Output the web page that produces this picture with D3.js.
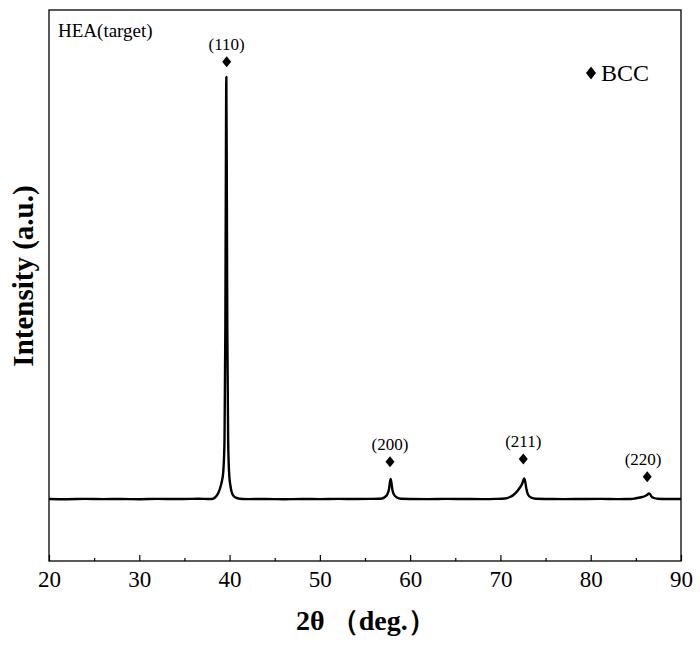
<!DOCTYPE html>
<html>
<head>
<meta charset="utf-8">
<script src="https://cdn.jsdelivr.net/npm/d3@7"></script>
<style>
  body { margin: 0; background: #fff; }
  svg { display: block; }
  text { font-family: "Liberation Serif", "Times New Roman", serif; }
</style>
</head>
<body>
<svg id="chart" width="700" height="646"></svg>
<script>
// XRD pattern (2θ in deg, intensity in a.u.)
const twoTheta = [
  20, 22, 24, 26, 28, 30, 32, 34, 35.5, 36.5, 37.3, 37.8,
  38.05, 38.39, 38.75, 38.99, 39.13, 39.30, 39.44, 39.53, 39.58, 39.64,
  39.70, 39.75, 39.84, 39.97, 40.10, 40.23, 40.49, 40.79, 41.49,
  42, 44, 46, 48, 50, 52, 54, 55.5, 56.5,
  56.88, 57.21, 57.49, 57.66, 57.77, 57.84, 57.93, 58.04, 58.21, 58.54, 58.98,
  60, 62, 64, 66, 68, 69.5,
  70.50, 71.06, 71.50, 71.83, 72.16, 72.39, 72.55, 72.64, 72.75, 72.88, 73.05, 73.38, 73.94,
  75, 77, 79, 81, 83, 84.5,
  84.90, 85.45, 85.90, 86.23, 86.45, 86.56, 86.73, 87.00, 87.45,
  88.5, 90
];
const intensity = [
  620, 618, 621, 619, 620, 618, 621, 620, 621, 622, 621, 620,
  620, 635, 680, 740, 790, 890, 1210, 2310, 3610, 4840,
  3610, 2310, 1210, 850, 750, 690, 645, 630, 620,
  619, 620, 618, 620, 619, 621, 620, 621, 622,
  625, 640, 670, 720, 790, 820, 780, 710, 665, 635, 622,
  620, 619, 621, 620, 619, 621,
  625, 640, 665, 695, 735, 770, 810, 825, 790, 720, 665, 635, 622,
  620, 619, 620, 621, 619, 620,
  625, 635, 645, 660, 675, 670, 645, 630, 622,
  620, 620
];

// BCC reflections
const peakLabels = ["(110)", "(200)", "(211)", "(220)"];
const markerX = [39.68, 57.77, 72.53, 86.26];
const markerY = [4993, 993, 1020, 843];
const labelX = [39.68, 57.77, 72.53, 85.80];

const xTicks = [20, 30, 40, 50, 60, 70, 80, 90];
const xMinorTicks = [25, 35, 45, 55, 65, 75, 85];

const svg = d3.select("#chart");
const margin = {left: 49, right: 19, top: 10, bottom: 85};
const W = 700, H = 646;
const SERIF = "'Liberation Serif', 'Times New Roman', serif";

const x = d3.scaleLinear().domain([20, 90]).range([margin.left, W - margin.right]);
const y = d3.scaleLinear().domain([0, 5510]).range([H - margin.bottom, margin.top]);

//diamond marker path centered on (cx, cy)
function diamond(cx, cy, w, h){
    return `M${cx},${cy - h/2}L${cx + w/2},${cy}L${cx},${cy + h/2}L${cx - w/2},${cy}Z`;
}

//minor ticks (inward)
svg.append("g")
    .attr("transform", `translate(0,${y.range()[0]})`)
    .call(d3.axisBottom(x).tickValues(xMinorTicks).tickSize(-3).tickFormat(""))
    .call(g => g.select(".domain").remove())
    .call(g => g.selectAll("line").attr("stroke-width", 1.2));

//major ticks + labels
svg.append("g")
    .attr("transform", `translate(0,${y.range()[0]})`)
    .call(d3.axisBottom(x).tickValues(xTicks).tickSize(-6).tickPadding(0).tickFormat(d3.format("d")))
    .attr("font-family", SERIF)
    .attr("font-size", 23)
    .call(g => g.select(".domain").remove())
    .call(g => g.selectAll("line").attr("stroke-width", 1.2))
    .call(g => g.selectAll("text")
        .attr("y", 26)
        .attr("dy", 0)
        .attr("fill", "#000")
        .attr("font-family", SERIF));

//frame
svg.append("rect")
    .attr("x", x.range()[0])
    .attr("y", y.range()[1])
    .attr("width", x.range()[1] - x.range()[0])
    .attr("height", y.range()[0] - y.range()[1])
    .attr("fill", "none")
    .attr("stroke", "#000")
    .attr("stroke-width", 1.3);

//pattern
const pts = twoTheta.map((t, i) => [t, intensity[i]]);
svg.append("path")
    .datum(pts)
    .attr("fill", "none")
    .attr("stroke", "#000")
    .attr("stroke-width", 2.4)
    .attr("stroke-linejoin", "round")
    .attr("d", d3.line().x(d => x(d[0])).y(d => y(d[1])).curve(d3.curveMonotoneX));

//peak markers and hkl labels
const ann = svg.append("g");
peakLabels.forEach((lab, i) => {
    ann.append("path")
        .attr("d", diamond(x(markerX[i]), y(markerY[i]), 9, 11))
        .attr("fill", "#000");
    ann.append("text")
        .attr("x", x(labelX[i]))
        .attr("y", y(markerY[i]) - 12)
        .attr("text-anchor", "middle")
        .style("font-size", "17px")
        .text(lab);
});

//sample label
svg.append("text")
    .attr("x", 58)
    .attr("y", 37)
    .style("font-size", "19px")
    .text("HEA(target)");

//legend
svg.append("path")
    .attr("d", diamond(591, 73, 10, 13))
    .attr("fill", "#000");
svg.append("text")
    .attr("x", 601)
    .attr("y", 81)
    .style("font-size", "24px")
    .text("BCC");

//axis titles
let xTitle = svg.append("text")
    .attr("x", 296)
    .attr("y", 630)
    .attr("font-weight", "bold")
    .style("font-size", "28px");
xTitle.append("tspan").text("2θ");
xTitle.append("tspan").attr("dx", 6).text("（deg.）");

svg.append("text")
    .attr("transform", `translate(33,276) rotate(-90)`)
    .attr("text-anchor", "middle")
    .attr("font-weight", "bold")
    .style("font-size", "29px")
    .text("Intensity (a.u.)");
</script>
</body>
</html>
